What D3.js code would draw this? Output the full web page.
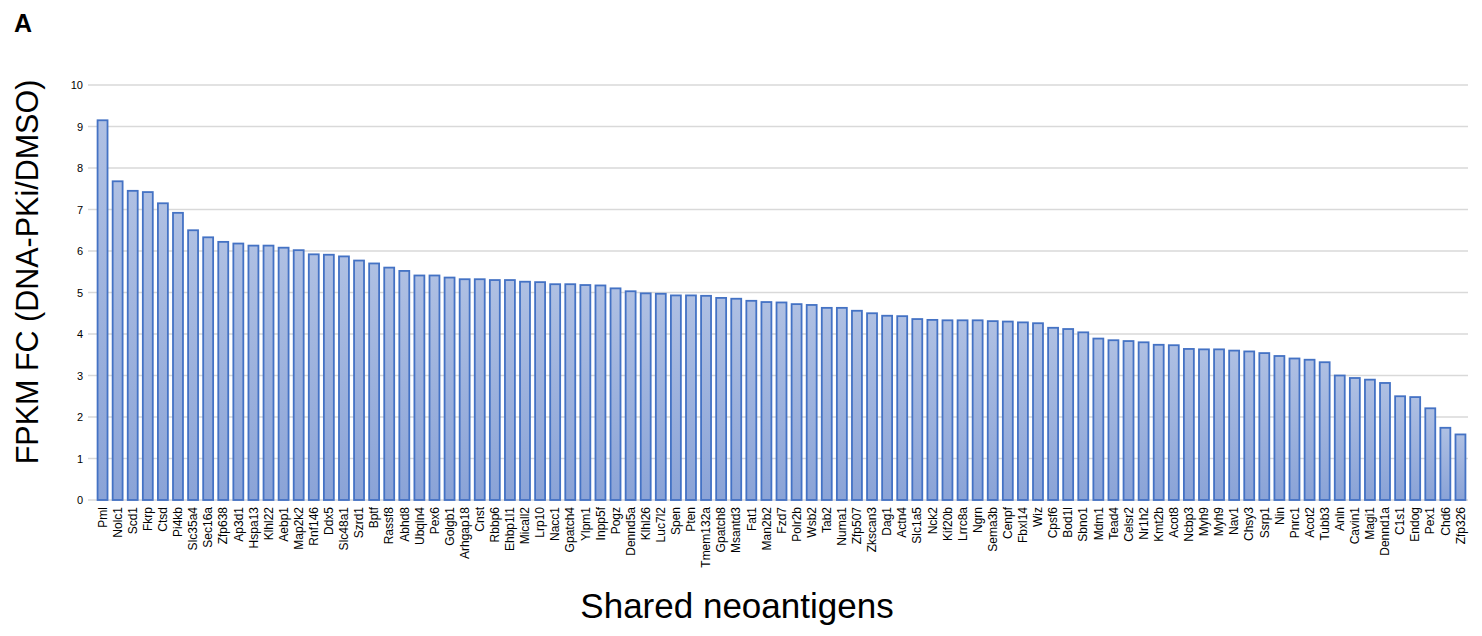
<!DOCTYPE html>
<html>
<head>
<meta charset="utf-8">
<script src="https://cdn.jsdelivr.net/npm/d3@7"></script>
<style>
  body { margin: 0; background: #fff; }
  svg { font-family: "Liberation Sans", Arial, sans-serif; }
</style>
</head>
<body>
<svg width="1482" height="636"></svg>
<script>
const genes = ["Pml","Nolc1","Scd1","Fkrp","Ctsd","Pi4kb","Slc35a4","Sec16a","Zfp638","Ap3d1",
  "Hspa13","Klhl22","Aebp1","Map2k2","Rnf146","Ddx5","Slc48a1","Szrd1","Bptf","Rassf8",
  "Abhd8","Ubqln4","Pex6","Golgb1","Arhgap18","Cnst","Rbbp6","Ehbp1l1","Micall2","Lrp10",
  "Nacc1","Gpatch4","Ylpm1","Inpp5f","Pogz","Dennd5a","Klhl26","Luc7l2","Spen","Pten",
  "Tmem132a","Gpatch8","Msantd3","Fat1","Man2b2","Fzd7","Polr2b","Wsb2","Tab2","Numa1",
  "Zfp507","Zkscan3","Dag1","Actn4","Slc1a5","Nck2","Kif20b","Lrrc8a","Ngrn","Sema3b",
  "Cenpf","Fbxl14","Wiz","Cpsf6","Bod1l","Sbno1","Mdm1","Tead4","Celsr2","Nr1h2",
  "Kmt2b","Acot8","Ncbp3","Myh9","Myh9","Nav1","Chsy3","Ssrp1","Nin","Pnrc1",
  "Acot2","Tubb3","Anln","Cavin1","Magi1","Dennd1a","C1s1","Endog","Pex1","Chd6","Zfp326"];

const fc = [9.15,7.68,7.45,7.42,7.15,6.92,6.5,6.33,6.22,6.18,
  6.13,6.13,6.08,6.02,5.92,5.91,5.87,5.77,5.7,5.6,
  5.52,5.41,5.41,5.36,5.32,5.32,5.3,5.3,5.26,5.25,
  5.2,5.2,5.18,5.17,5.1,5.03,4.98,4.97,4.93,4.93,
  4.92,4.87,4.85,4.8,4.77,4.76,4.72,4.7,4.63,4.63,
  4.56,4.5,4.44,4.43,4.36,4.34,4.33,4.33,4.33,4.31,
  4.3,4.28,4.26,4.15,4.12,4.04,3.89,3.85,3.83,3.8,
  3.74,3.73,3.64,3.63,3.63,3.6,3.58,3.54,3.47,3.41,
  3.38,3.32,3.0,2.94,2.9,2.82,2.5,2.48,2.21,1.74,1.58];

const yTicks = d3.range(0, 11);

const svg = d3.select("svg");
const margin = { left: 95, right: 14, top: 85, bottom: 136 };
const width = 1482, height = 636;

const data = genes.map((g, i) => ({ key: i, gene: g, value: fc[i] }));

const x = d3.scaleBand()
  .domain(data.map(d => d.key))
  .range([margin.left, width - margin.right])
  .paddingInner(0.34)
  .paddingOuter(0.17);

const y = d3.scaleLinear()
  .domain([0, 10])
  .range([height - margin.bottom, margin.top]);

const defs = svg.append("defs");
const grad = defs.append("linearGradient")
  .attr("id", "barFill").attr("x1", 0).attr("y1", 0).attr("x2", 0).attr("y2", 1);
grad.append("stop").attr("offset", "0%").attr("stop-color", "#afc0e3");
grad.append("stop").attr("offset", "100%").attr("stop-color", "#8aa3d7");

// gridlines
svg.append("g")
  .selectAll("line")
  .data(yTicks)
  .enter()
  .append("line")
  .attr("x1", margin.left - 7)
  .attr("x2", width - margin.right)
  .attr("y1", d => y(d))
  .attr("y2", d => y(d))
  .style("stroke", "#d9d9d9")
  .style("stroke-width", 1.3);

// y tick labels
svg.append("g")
  .attr("transform", `translate(${margin.left - 12},0)`)
  .call(d3.axisLeft(y).tickValues(yTicks).tickSize(0).tickPadding(0))
  .call(g => g.select(".domain").remove())
  .selectAll("text")
  .style("font-size", "11px")
  .style("fill", "#000");

// bars
svg.append("g")
  .selectAll("rect")
  .data(data)
  .enter()
  .append("rect")
  .attr("x", d => x(d.key))
  .attr("y", d => y(d.value))
  .attr("width", x.bandwidth())
  .attr("height", d => y(0) - y(d.value))
  .style("fill", "url(#barFill)")
  .style("stroke", "#4472c4")
  .style("stroke-width", 1.8);

// x axis labels
svg.append("g")
  .attr("transform", `translate(0,${y(0)})`)
  .call(d3.axisBottom(x).tickSize(0).tickPadding(0).tickFormat(k => genes[k]))
  .call(g => g.select(".domain").remove())
  .selectAll("text")
  .attr("transform", "rotate(-90)")
  .attr("x", -7)
  .attr("y", 0)
  .attr("dy", "0.35em")
  .style("text-anchor", "end")
  .style("font-size", "12px")
  .style("fill", "#000");

// axis titles
svg.append("text")
  .attr("transform", `translate(38,272) rotate(-90)`)
  .attr("text-anchor", "middle")
  .style("font-size", "30.5px")
  .text("FPKM FC (DNA-PKi/DMSO)");

svg.append("text")
  .attr("x", 737)
  .attr("y", 618)
  .attr("text-anchor", "middle")
  .style("font-size", "35px")
  .text("Shared neoantigens");

svg.append("text")
  .attr("x", 14)
  .attr("y", 32)
  .style("font-size", "25px")
  .style("font-weight", "bold")
  .text("A");
</script>
</body>
</html>
